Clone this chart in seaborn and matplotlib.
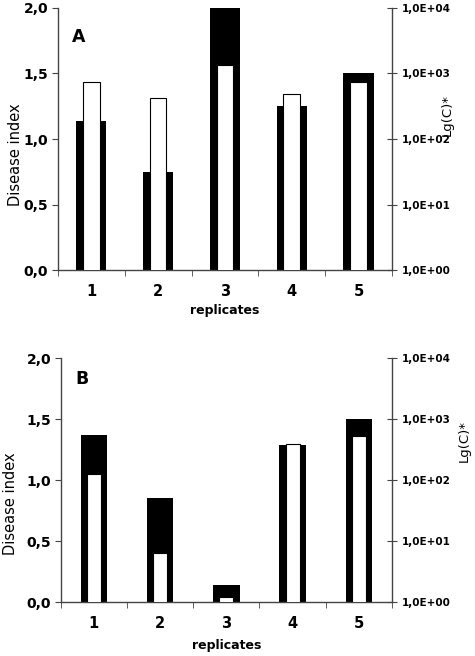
import numpy as np
import pandas as pd
import matplotlib
matplotlib.use('Agg')
import matplotlib.pyplot as plt
from matplotlib.ticker import FixedLocator, FuncFormatter
import seaborn as sns

# Data
replicates = ['1', '2', '3', '4', '5']
disease_a = [1.14, 0.75, 2.0, 1.25, 1.5]
conc_a = [750, 430, 1350, 490, 750]
disease_b = [1.37, 0.85, 0.14, 1.29, 1.5]
conc_b = [127, 6.3, 1.2, 390, 525]

sns.set_style('white')
plt.rcParams['font.family'] = ['DejaVu Sans']
plt.rcParams['text.color'] = 'black'
plt.rcParams['axes.labelcolor'] = 'black'
plt.rcParams['xtick.color'] = 'black'
plt.rcParams['ytick.color'] = 'black'

fig = plt.figure(figsize=(4.75, 6.56), dpi=100)

def lg_fmt(v, pos):
    e = int(round(np.log10(v)))
    return '1,0E+%02d' % e

def panel(rect, di, conc, letter, black_w, white_w, pos):
    ax = fig.add_axes(rect)
    df = pd.DataFrame({'rep': replicates, 'di': di, 'c': conc})
    sns.barplot(data=df, x='rep', y='di', color='black', width=black_w,
                saturation=1, edgecolor='black', linewidth=0, ax=ax)
    ax.set_ylim(0, 2.0)
    ax.set_xlim(-0.5, 4.5)
    ax.set_yticks([0, 0.5, 1.0, 1.5, 2.0])
    ax.set_yticklabels(['0,0', '0,5', '1,0', '1,5', '2,0'], fontweight='bold', fontsize=10)
    ax.set_xticks(range(5))
    ax.set_xticklabels(replicates, fontweight='bold', fontsize=10.5)
    ax.xaxis.set_minor_locator(FixedLocator([-0.5, 0.5, 1.5, 2.5, 3.5, 4.5]))
    ax.tick_params(axis='x', which='major', length=0, pad=10)
    ax.tick_params(axis='x', which='minor', length=4, direction='out', bottom=True, color='#444444')
    ax.tick_params(axis='y', length=4, direction='out', left=True, color='#444444', pad=3)
    ax.set_xlabel('replicates', fontsize=9, fontweight='bold')
    ax.xaxis.set_label_coords(0.5, pos['xl'])
    ax.set_ylabel('Disease index', fontsize=10.5)
    ax.yaxis.set_label_coords(pos['yl_x'], pos['yl_y'])
    for s in ['top', 'right']:
        ax.spines[s].set_visible(False)
    for s in ['left', 'bottom']:
        ax.spines[s].set_color('#444444')
        ax.spines[s].set_linewidth(1)
    ax.text(pos['lt_x'], pos['lt_y'], letter, transform=ax.transAxes, fontsize=12.5,
            fontweight='bold', ha='left', va='center')

    ax2 = ax.twinx()
    sns.barplot(data=df, x='rep', y='c', color='white', width=white_w,
                saturation=1, edgecolor='black', linewidth=0.8, ax=ax2)
    ax2.set_yscale('log')
    ax2.set_ylim(1, 1e4)
    ax2.set_xlim(-0.5, 4.5)
    ax2.yaxis.set_major_locator(FixedLocator([1, 10, 100, 1000, 10000]))
    ax2.yaxis.set_major_formatter(FuncFormatter(lg_fmt))
    ax2.yaxis.set_minor_locator(FixedLocator([]))
    for lab in ax2.get_yticklabels():
        lab.set_fontweight('bold')
        lab.set_fontsize(7.5)
    ax2.tick_params(axis='y', length=7, direction='inout', right=True, color='#444444', pad=4)
    ax2.set_ylabel('Lg(C)*', fontsize=9.5)
    ax2.yaxis.set_label_coords(pos['rl_x'], pos['rl_y'])
    ax2.set_xlabel('')
    for s in ['top', 'left', 'bottom']:
        ax2.spines[s].set_visible(False)
    ax2.spines['right'].set_color('#444444')
    ax2.spines['right'].set_linewidth(1)
    return ax, ax2

panel([0.122, 0.588, 0.703, 0.400], disease_a, conc_a, 'A', 0.45, 0.25,
      dict(xl=-0.13, yl_x=-0.105, yl_y=0.44, lt_x=0.042, lt_y=0.89, rl_x=1.147, rl_y=0.59))
panel([0.128, 0.082, 0.697, 0.372], disease_b, conc_b, 'B', 0.40, 0.21,
      dict(xl=-0.152, yl_x=-0.13, yl_y=0.405, lt_x=0.045, lt_y=0.914, rl_x=1.20, rl_y=0.66))

fig.savefig('out.png', dpi=100)
